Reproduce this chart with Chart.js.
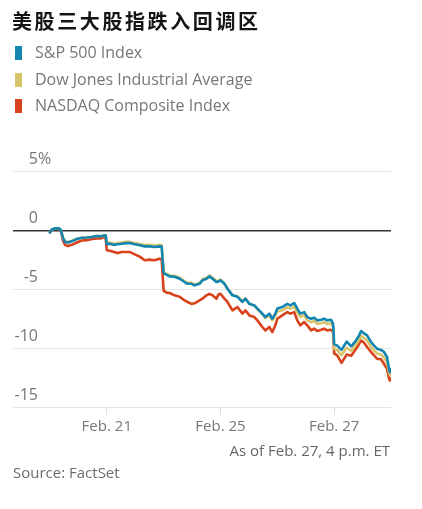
<!DOCTYPE html>
<html>
<head>
<meta charset="utf-8">
<script src="https://cdn.jsdelivr.net/npm/chart.js@4.4.1/dist/chart.umd.min.js"></script>
<style>
html,body{margin:0;padding:0;background:#fff;}
body{width:422px;height:509px;position:relative;overflow:hidden;font-family:"Open Sans",sans-serif;}
#title{position:absolute;left:12px;top:9px;font-family:"Noto Sans CJK SC",sans-serif;font-weight:700;font-size:20px;line-height:24px;letter-spacing:2.6px;color:#141414;white-space:nowrap;}
.leg{position:absolute;left:15px;height:20px;line-height:20px;font-size:16px;color:#777;white-space:nowrap;}
.leg i{display:inline-block;width:7px;height:14px;vertical-align:-2px;margin-right:13px;}
#asof{position:absolute;right:32px;top:440px;font-size:15px;color:#666;line-height:20px;white-space:nowrap;}
#src{position:absolute;left:13px;top:462px;font-size:15px;color:#6c6c6c;line-height:20px;white-space:nowrap;}
#chart{position:absolute;left:0;top:0;}
</style>
</head>
<body>
<canvas id="chart" width="422" height="509"></canvas>
<div id="title">美股三大股指跌入回调区</div>
<div id="legend"></div>
<div id="asof">As of Feb. 27, 4 p.m. ET</div>
<div id="src">Source: FactSet</div>
<script>
// ---- data (x = trading-day index, 0 = Feb. 20 open) ----
const seriesNames = ["S&P 500 Index", "Dow Jones Industrial Average", "NASDAQ Composite Index"];
const seriesColors = ["#1286b0", "#d8c46a", "#d8421c"];

const times = [
0,0.035,0.088,0.158,0.193,0.228,0.263,0.316,0.386,0.474,0.561,0.649,0.737,0.825,0.895,0.947,0.98,
1.0,1.053,1.123,1.193,1.263,1.333,1.404,1.491,1.579,1.667,1.754,1.842,1.93,1.965,
2.0,2.053,2.105,2.193,2.281,2.368,2.421,2.491,2.544,2.632,2.684,2.754,2.807,2.86,2.93,2.965,
3.0,3.07,3.123,3.211,3.298,3.386,3.439,3.509,3.596,3.649,3.737,3.789,3.86,3.912,3.965,
4.0,4.088,4.175,4.228,4.298,4.351,4.404,4.474,4.526,4.596,4.649,4.702,4.772,4.825,4.877,4.947,4.982,
5.0,5.053,5.13,5.22,5.30,5.386,5.439,5.474,5.526,5.579,5.649,5.702,5.754,5.825,5.877,5.93,5.965,5.98
];

const sp500 = [
-0.15,0.1,0.2,0.2,0.05,-0.6,-0.95,-1.0,-0.9,-0.7,-0.6,-0.58,-0.53,-0.45,-0.48,-0.4,-0.38,
-1.15,-1.1,-1.2,-1.15,-1.1,-1.05,-1.05,-1.15,-1.24,-1.33,-1.33,-1.38,-1.33,-1.35,
-3.6,-3.75,-3.87,-3.9,-4.07,-4.35,-4.5,-4.5,-4.63,-4.5,-4.2,-4.07,-3.87,-4.07,-4.35,-4.3,
-4.2,-4.5,-4.92,-5.48,-5.6,-6.04,-5.76,-6.2,-6.33,-6.6,-7.03,-7.32,-7.03,-7.46,-7.03,
-6.6,-6.47,-6.2,-6.33,-6.13,-6.6,-7.03,-6.9,-7.32,-7.46,-7.37,-7.6,-7.55,-7.46,-7.6,-7.55,-7.9,
-9.6,-9.74,-10.1,-9.4,-9.8,-9.3,-8.87,-8.5,-8.7,-8.87,-9.43,-9.74,-10.0,-10.1,-10.28,-10.7,-11.7,-12.0
];

const dow = [
-0.15,0.1,0.2,0.2,0.05,-0.55,-0.88,-0.95,-0.85,-0.68,-0.6,-0.57,-0.52,-0.45,-0.47,-0.42,-0.42,
-1.05,-1.0,-1.1,-1.05,-1.0,-0.95,-0.95,-1.05,-1.13,-1.22,-1.2,-1.25,-1.2,-1.22,
-3.52,-3.67,-3.79,-3.82,-3.99,-4.27,-4.42,-4.42,-4.55,-4.42,-4.12,-3.99,-3.79,-3.99,-4.27,-4.22,
-4.15,-4.48,-4.9,-5.45,-5.55,-6.0,-5.75,-6.2,-6.35,-6.65,-7.1,-7.4,-7.15,-7.6,-7.2,
-6.85,-6.75,-6.5,-6.6,-6.45,-6.9,-7.3,-7.15,-7.6,-7.75,-7.65,-7.9,-7.85,-7.75,-7.9,-7.85,-8.15,
-10.0,-10.1,-10.55,-9.9,-10.2,-9.65,-9.25,-8.9,-9.1,-9.3,-9.85,-10.15,-10.4,-10.5,-10.75,-11.15,-12.0,-12.25
];

const nasdaq = [
-0.15,0.1,0.2,0.15,0.0,-0.8,-1.2,-1.3,-1.2,-1.0,-0.83,-0.8,-0.7,-0.65,-0.65,-0.55,-0.62,
-1.65,-1.7,-1.8,-1.9,-1.8,-1.8,-1.8,-2.0,-2.2,-2.5,-2.45,-2.5,-2.37,-2.4,
-5.1,-5.25,-5.28,-5.48,-5.6,-5.9,-6.04,-6.2,-6.15,-5.9,-5.76,-5.48,-5.35,-5.48,-5.76,-5.4,
-5.34,-5.76,-6.04,-6.75,-6.47,-7.03,-6.75,-7.18,-7.32,-7.6,-8.16,-8.45,-8.16,-8.6,-8.02,
-7.46,-7.18,-6.9,-7.03,-6.9,-7.6,-8.02,-7.74,-8.02,-8.45,-8.3,-8.5,-8.4,-8.3,-8.45,-8.4,-8.6,
-10.4,-10.56,-11.2,-10.5,-10.6,-10.0,-9.6,-9.3,-9.5,-9.86,-10.28,-10.56,-10.85,-10.9,-11.3,-11.7,-12.5,-12.7
];

const xTickValues = [1, 3, 5];
const xTickLabels = ["Feb. 21", "Feb. 25", "Feb. 27"];
const yTickValues = [-15, -10, -5, 0, 5];
const yTickLabels = ["-15", "-10", "-5", "0", "5"];
const yUnitTickValue = [5];
const yUnitLabel = "%";

// ---- legend ----
const legendEl = document.getElementById('legend');
seriesNames.forEach((n, i) => {
  const d = document.createElement('div');
  d.className = 'leg';
  d.style.top = (42 + i * 26.5) + 'px';
  const box = document.createElement('i');
  box.style.background = seriesColors[i];
  d.appendChild(box);
  d.appendChild(document.createTextNode(n));
  legendEl.appendChild(d);
});

// ---- chart ----
const seriesValues = [sp500, dow, nasdaq];
const datasets = seriesValues.map((vals, i) => ({
  label: seriesNames[i],
  data: times.map((t, j) => ({x: t, y: vals[j]})),
  borderColor: seriesColors[i],
  backgroundColor: seriesColors[i],
  borderWidth: 2.6,
  pointRadius: 0,
  tension: 0,
  borderJoinStyle: 'round',
  borderCapStyle: 'round'
}));

const tickFontFamily = '"Open Sans", sans-serif';
const tickFont = {family: tickFontFamily, size: 16};
// right edge of y labels should sit 25px inside the plot's left edge
const mctx = document.createElement('canvas').getContext('2d');
mctx.font = '16px ' + tickFontFamily;
const widestY = Math.max(...yTickLabels.map(t => mctx.measureText(t).width));
const yLabelPad = 25 - widestY;

new Chart(document.getElementById('chart'), {
  type: 'line',
  data: {datasets},
  options: {
    responsive: false,
    animation: false,
    devicePixelRatio: 1,
    layout: {padding: {left: 13, right: 31, top: 171.7, bottom: 71.3}},
    plugins: {legend: {display: false}, title: {display: false}, tooltip: {enabled: false}},
    scales: {
      x: {
        type: 'linear', min: -0.65, max: 6.0,
        afterBuildTicks: s => { s.ticks = xTickValues.map(v => ({value: v})); },
        afterFit: s => { s.height = 30; },
        ticks: {autoSkip: false, maxRotation: 0, padding: 3, color: '#777',
                font: {family: tickFontFamily, size: 15},
                callback: (v, i) => xTickLabels[i]},
        grid: {drawOnChartArea: false, drawTicks: true, tickLength: 7, color: '#dedede'},
        border: {display: false}
      },
      y: {
        type: 'linear', min: -15, max: 5, position: 'left',
        afterBuildTicks: s => { s.ticks = yTickValues.map(v => ({value: v})); },
        afterFit: s => { s.width = 0; },
        ticks: {mirror: true, crossAlign: 'far', padding: yLabelPad, labelOffset: -12, color: '#777', font: tickFont,
                callback: (v, i) => yTickLabels[i]},
        grid: {drawTicks: false,
               color: c => (c.tick && c.tick.value === 0) ? '#333' : '#e4e4e4',
               lineWidth: c => (c.tick && c.tick.value === 0) ? 1.6 : 1},
        border: {display: false}
      },
      yUnit: {
        type: 'linear', min: -15, max: 5, position: 'left',
        afterBuildTicks: s => { s.ticks = yUnitTickValue.map(v => ({value: v})); },
        afterFit: s => { s.width = 0; },
        ticks: {mirror: true, crossAlign: 'near', padding: 25, labelOffset: -12, color: '#777', font: tickFont,
                callback: () => yUnitLabel},
        grid: {display: false},
        border: {display: false}
      }
    }
  }
});
</script>
</body>
</html>
